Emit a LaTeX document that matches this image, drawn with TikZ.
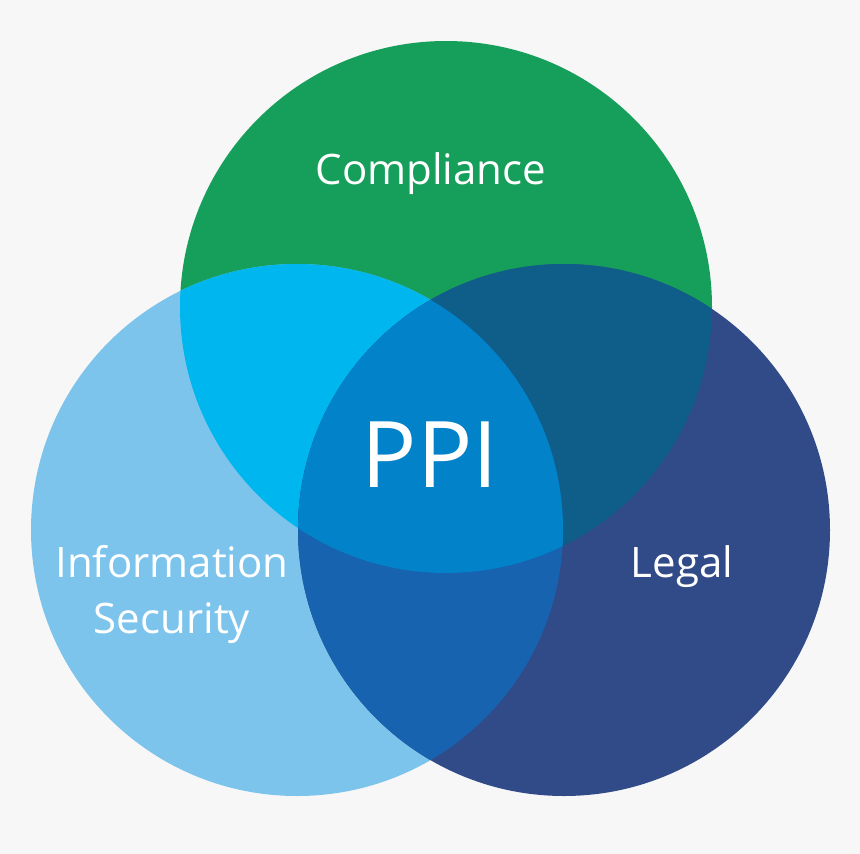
\documentclass[tikz,border=0pt]{standalone}
\usepackage{fontspec}
\setmainfont{Open Sans}
\definecolor{bg}{HTML}{F7F7F7}
\definecolor{cgreen}{HTML}{169F5A}
\definecolor{clight}{HTML}{7DC4ED}
\definecolor{cnavy}{HTML}{314A88}
\definecolor{ccyan}{HTML}{00B6EE}
\definecolor{cteal}{HTML}{0E5E89}
\definecolor{cmid}{HTML}{1763AF}
\definecolor{ccenter}{HTML}{0282C8}
\begin{document}
\begin{tikzpicture}[x=1pt,y=-1pt,
  lbl/.style={text=white,inner sep=0pt,anchor=base,font=\fontsize{42}{52}\selectfont},
  big/.style={text=white,inner sep=0pt,anchor=base,font=\fontsize{92}{100}\selectfont}]
\def\rad{266}
\fill[bg] (0,0) rectangle (860,854);
\useasboundingbox (0,0) rectangle (860,854);
\coordinate (G) at (446,307);
\coordinate (L) at (297,530);
\coordinate (R) at (564,530);
% base circles
\fill[cgreen] (G) circle[radius=\rad];
\fill[clight] (L) circle[radius=\rad];
\fill[cnavy] (R) circle[radius=\rad];
% pairwise overlaps
\begin{scope}
  \clip (G) circle[radius=\rad];
  \fill[ccyan] (L) circle[radius=\rad];
  \fill[cteal] (R) circle[radius=\rad];
\end{scope}
\begin{scope}
  \clip (L) circle[radius=\rad];
  \fill[cmid] (R) circle[radius=\rad];
\end{scope}
% triple overlap
\begin{scope}
  \clip (G) circle[radius=\rad];
  \clip (L) circle[radius=\rad];
  \fill[ccenter] (R) circle[radius=\rad];
\end{scope}
% labels
\node[lbl] (comp) at (431,184) {Compliance};
\node[big] (ppi) at (430,487) {PPI};
\node[lbl] (info) at (172,577) {Information};
\node[lbl] (sec) at (172,633) {Security};
\node[lbl] (legal) at (682,577) {Legal};
\end{tikzpicture}
\end{document}
